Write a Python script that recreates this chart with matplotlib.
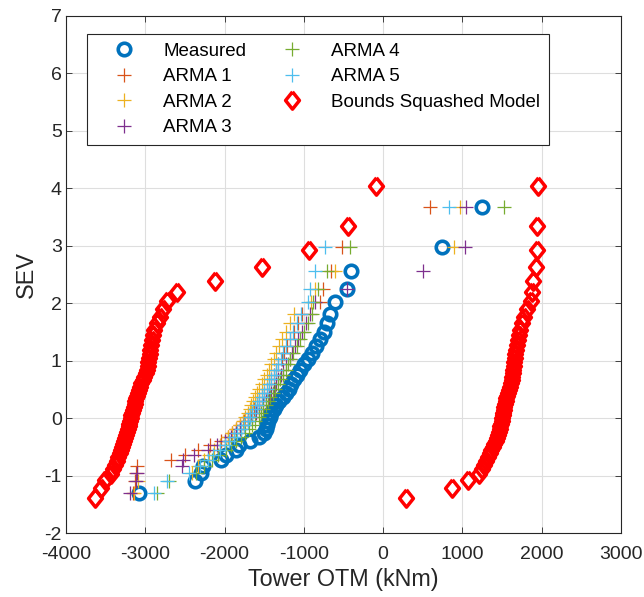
import matplotlib
matplotlib.use("Agg")
import matplotlib.pyplot as plt

plt.rcParams['font.family'] = ['Liberation Sans', 'DejaVu Sans']
plt.rcParams['axes.unicode_minus'] = False

# SEV plotting positions (39 measured/ARMA samples, 56 per bound curve)
sev_meas = [-1.305, -1.097, -0.952, -0.834, -0.732, -0.640, -0.556, -0.476, -0.400, -0.327,
            -0.255, -0.186, -0.117, -0.049, 0.019, 0.087, 0.156, 0.225, 0.295, 0.367,
            0.440, 0.514, 0.592, 0.672, 0.755, 0.842, 0.934, 1.031, 1.134, 1.246,
            1.367, 1.500, 1.648, 1.817, 2.013, 2.250, 2.551, 2.970, 3.676]

sev_bounds = [-1.397, -1.209, -1.080, -0.977, -0.889, -0.812, -0.741, -0.675, -0.613, -0.554,
              -0.498, -0.444, -0.391, -0.339, -0.289, -0.240, -0.191, -0.142, -0.094, -0.046,
              0.001, 0.049, 0.097, 0.145, 0.193, 0.242, 0.291, 0.341, 0.392, 0.443,
              0.496, 0.549, 0.604, 0.660, 0.718, 0.778, 0.839, 0.903, 0.969, 1.038,
              1.110, 1.186, 1.266, 1.352, 1.442, 1.540, 1.646, 1.761, 1.889, 2.032,
              2.196, 2.388, 2.621, 2.917, 3.332, 4.034]

otm_measured = [-3075, -2375, -2300, -2270, -2050, -1980, -1860, -1820, -1680, -1560,
                -1500, -1480, -1460, -1450, -1430, -1410, -1380, -1350, -1310, -1260,
                -1230, -1190, -1160, -1120, -1080, -1045, -1000, -950, -900, -840,
                -790, -750, -710, -665, -610, -460, -400, 750, 1250]

otm_arma1 = [-3160, -3130, -3120, -3110, -2680, -2500, -2340, -2180, -2050, -1960,
             -1910, -1860, -1810, -1760, -1710, -1670, -1630, -1590, -1560, -1530,
             -1500, -1470, -1440, -1410, -1380, -1350, -1320, -1280, -1250, -1210,
             -1170, -1120, -1070, -1020, -790, -760, -660, -520, 595]

otm_arma2 = [-3140, -3090, -2410, -2340, -2260, -2190, -2130, -2060, -2000, -1950,
             -1900, -1850, -1810, -1770, -1740, -1710, -1680, -1660, -1640, -1610,
             -1590, -1560, -1530, -1500, -1470, -1440, -1410, -1380, -1350, -1310,
             -1270, -1230, -1180, -1120, -910, -860, -600, 898, 975]

otm_arma3 = [-3190, -3120, -3100, -2540, -2520, -2380, -2210, -2090, -2000, -1920,
             -1860, -1800, -1750, -1700, -1650, -1600, -1560, -1520, -1480, -1440,
             -1410, -1380, -1350, -1320, -1290, -1260, -1220, -1180, -1150, -1110,
             -1070, -1020, -970, -920, -860, -456, 510, 1030, 1050]

otm_arma4 = [-2850, -2700, -2360, -2260, -2160, -2080, -1980, -1920, -1850, -1790,
             -1740, -1690, -1650, -1610, -1570, -1540, -1510, -1480, -1450, -1420,
             -1390, -1360, -1330, -1300, -1260, -1230, -1200, -1170, -1130, -1090,
             -1050, -1000, -950, -900, -880, -820, -710, -414, 1520]

otm_arma5 = [-2890, -2720, -2450, -2310, -2210, -2140, -2060, -1990, -1940, -1880,
             -1840, -1790, -1750, -1710, -1680, -1650, -1620, -1590, -1560, -1530,
             -1500, -1470, -1440, -1410, -1380, -1350, -1320, -1290, -1260, -1220,
             -1180, -1140, -1090, -1040, -950, -918, -860, -738, 826]

bound_low = [-3630, -3560, -3505, -3430, -3405, -3380, -3360, -3345, -3325, -3310,
             -3295, -3280, -3265, -3250, -3240, -3230, -3220, -3210, -3200, -3190,
             -3185, -3175, -3165, -3155, -3145, -3135, -3125, -3115, -3105, -3090,
             -3080, -3065, -3050, -3030, -3010, -2990, -2975, -2965, -2960, -2955,
             -2945, -2935, -2925, -2910, -2900, -2885, -2850, -2810, -2770, -2720,
             -2605, -2115, -1525, -940, -440, -95]

bound_high = [295, 870, 1070, 1215, 1250, 1280, 1305, 1325, 1345, 1365,
              1390, 1405, 1420, 1435, 1450, 1460, 1470, 1480, 1490, 1495,
              1500, 1508, 1516, 1524, 1532, 1540, 1548, 1557, 1567, 1580,
              1592, 1604, 1614, 1623, 1632, 1639, 1645, 1651, 1656, 1662,
              1670, 1680, 1690, 1702, 1715, 1732, 1752, 1780, 1815, 1862,
              1877, 1898, 1932, 1940, 1948, 1961]

arma_series = [("ARMA 1", otm_arma1, "#D95319"),
               ("ARMA 2", otm_arma2, "#EDB120"),
               ("ARMA 3", otm_arma3, "#7E2F8E"),
               ("ARMA 4", otm_arma4, "#77AC30"),
               ("ARMA 5", otm_arma5, "#4DBEEE")]

diamond = [(0, 1), (0.8, 0), (0, -1), (-0.8, 0), (0, 1)]

fig = plt.figure(figsize=(6.44, 5.97), dpi=100)
ax = fig.add_axes([0.1025, 0.107, 0.8615, 0.867])

ax.plot(otm_measured, sev_meas, 'o', ls='none', mfc='none', mec='#0072BD',
        ms=9, mew=2.6, label='Measured')
for name, vals, col in arma_series:
    ax.plot(vals, sev_meas, '+', ls='none', color=col, ms=10, mew=0.9, label=name)
ax.plot(bound_low, sev_bounds, marker=diamond, ls='none', mfc='none', mec='red',
        ms=12.5, mew=2.5, label='Bounds Squashed Model')
ax.plot(bound_high, sev_bounds, marker=diamond, ls='none', mfc='none', mec='red',
        ms=12.5, mew=2.5)

ax.set_xlim(-4000, 3000)
ax.set_ylim(-2, 7)
ax.set_xticks(range(-4000, 3001, 1000))
ax.set_yticks(range(-2, 8))
ax.grid(True, color='#dedede', lw=0.8)
ax.set_axisbelow(True)
ax.tick_params(direction='in', length=4, width=0.6, labelsize=14, colors='#262626',
               top=True, right=True)
ax.tick_params(axis='x', pad=9)
ax.tick_params(axis='y', pad=3)
for sp in ax.spines.values():
    sp.set_color('#262626')
    sp.set_linewidth(0.8)

ax.set_xlabel('Tower OTM (kNm)', fontsize=16.8, color='#262626', labelpad=4)
ax.set_ylabel('SEV', fontsize=16.8, color='#262626', labelpad=5)

leg = ax.legend(ncol=2, loc='upper left', bbox_to_anchor=(0.038, 0.964),
                fontsize=13.5, frameon=True, fancybox=False, framealpha=1,
                edgecolor='#262626', borderpad=0.45, handlelength=3.0,
                handletextpad=0.6, columnspacing=0.95, labelspacing=0.45,
                borderaxespad=0)
leg.get_frame().set_linewidth(0.8)

fig.savefig('out.png', dpi=100)
